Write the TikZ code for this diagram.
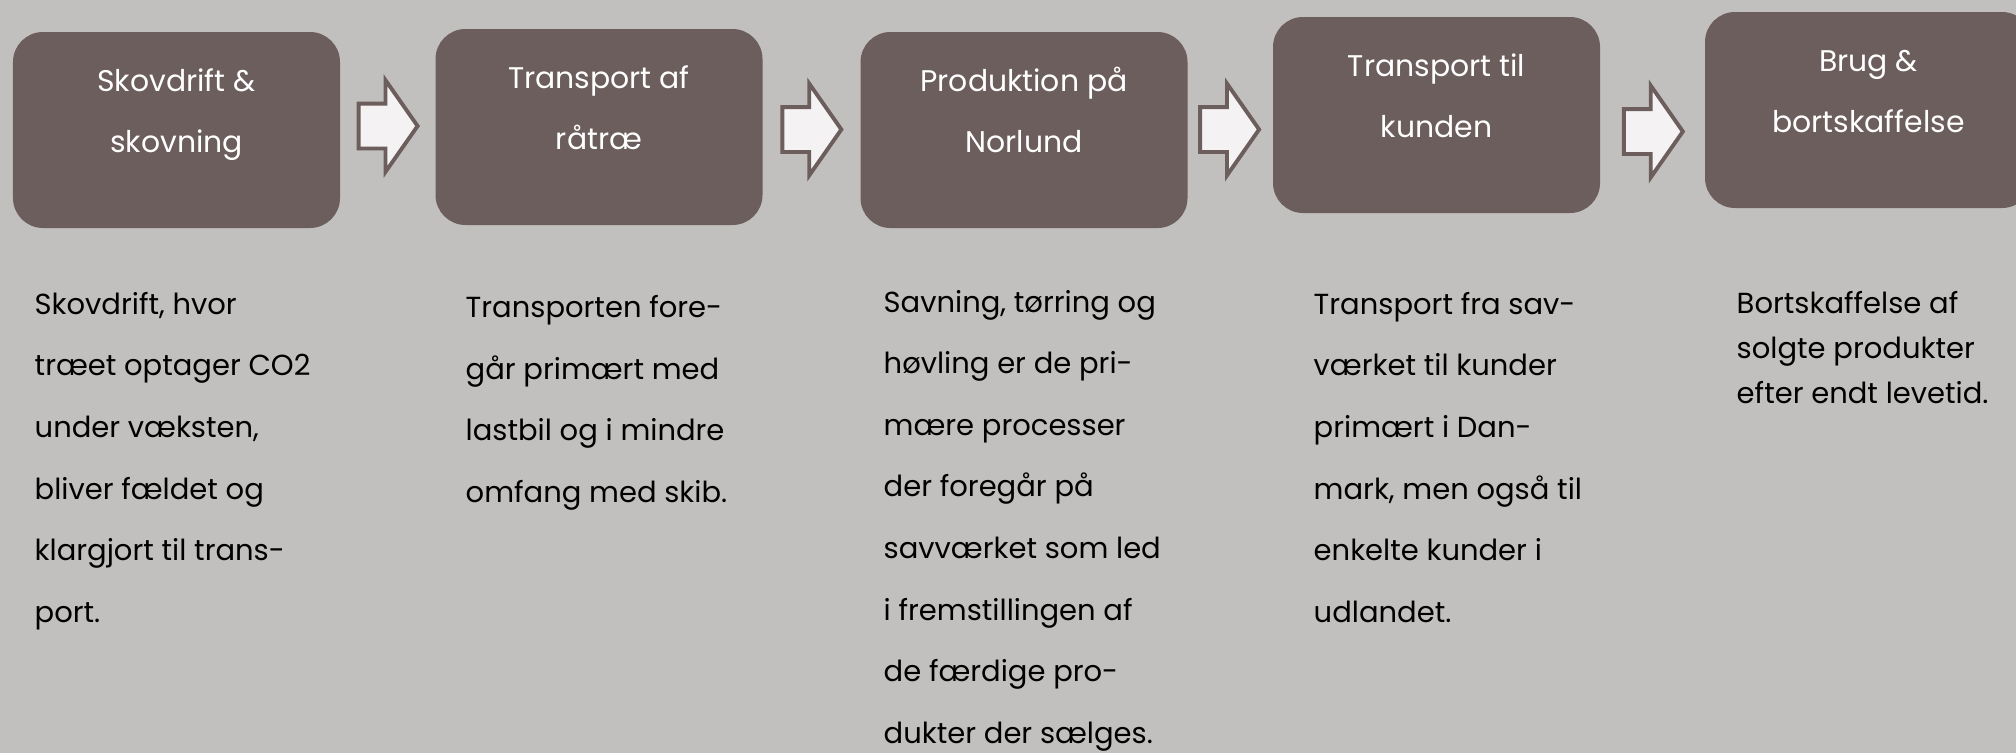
\documentclass[tikz,border=0pt]{standalone}
\usepackage{fontspec}
\setmainfont{Poppins}
\usetikzlibrary{shapes.arrows,calc}
\definecolor{bggray}{RGB}{193,192,190}
\definecolor{stagebrown}{RGB}{107,94,92}
\definecolor{arrowwhite}{RGB}{244,242,243}
\tikzstyle{stage}=[fill=stagebrown, rounded corners=0.3cm, text=white, align=center,
  minimum width=3.27cm, inner xsep=0pt, inner ysep=0pt,
  text height=1.20cm, text depth=0.76cm, font=\fontsize{8.5}{17.1}\selectfont]
\tikzstyle{flow}=[single arrow, draw=stagebrown, fill=arrowwhite, line width=1.1pt,
  minimum height=0.59cm, minimum width=0.88cm, single arrow head extend=0.235cm,
  single arrow tip angle=110, inner xsep=0pt, inner ysep=0.205cm]
\tikzstyle{desc}=[anchor=base west, align=left, inner sep=0pt,
  font=\fontsize{8.25}{17.5}\selectfont]

\begin{document}
\begin{tikzpicture}
  \useasboundingbox (0,0) rectangle (20.16,-7.53);
  \fill[bggray] (0,0) rectangle (20.16,-7.53);

  \node(skov)[stage] at (1.765,-1.30) {Skovdrift \&\\skovning};
  \path(skov.center)+(4.225,0.03) node(raatrae)[stage]{Transport af\\råtræ};
  \path(raatrae.center)+(4.25,-0.03) node(prod)[stage]{Produktion på\\Norlund};
  \path(prod.center)+(4.125,0.15) node(kunde)[stage]{Transport til\\kunden};
  \path(kunde.center)+(4.32,0.05) node(brug)[stage]{Brug \&\\bortskaffelse};

  \node(flow1)[flow] at ($(skov.east)!0.5!(raatrae.west)+(-0.075,0.025)$) {};
  \node(flow2)[flow] at ($(raatrae.east)!0.5!(prod.west)+(-0.075,-0.01)$) {};
  \node(flow3)[flow] at ($(prod.east)!0.5!(kunde.west)+(-0.085,-0.07)$) {};
  \node(flow4)[flow] at ($(kunde.east)!0.5!(brug.west)+(-0.07,-0.19)$) {};

  % base anchor sits on the last line
  \path(0.34,-6.22) node(skovtext)[desc]{Skovdrift, hvor\\træet optager CO2\\
    under væksten,\\bliver fældet og\\klargjort til trans-\\port.};
  \path(4.65,-5.02) node(raatraetext)[desc]{Transporten fore-\\går primært med\\
    lastbil og i mindre\\omfang med skib.};
  \path(8.83,-7.43) node(prodtext)[desc]{Savning, tørring og\\høvling er de pri-\\
    mære processer\\der foregår på\\savværket som led\\i fremstillingen af\\
    de færdige pro-\\dukter der sælges.};
  \path(13.13,-6.22) node(kundetext)[desc]{Transport fra sav-\\værket til kunder\\
    primært i Dan-\\mark, men også til\\enkelte kunder i\\udlandet.};
  \path(17.36,-4.03) node(brugtext)[desc,font=\fontsize{8.25}{12.8}\selectfont]{
    Bortskaffelse af\\solgte produkter\\efter endt levetid.};
\end{tikzpicture}
\end{document}
